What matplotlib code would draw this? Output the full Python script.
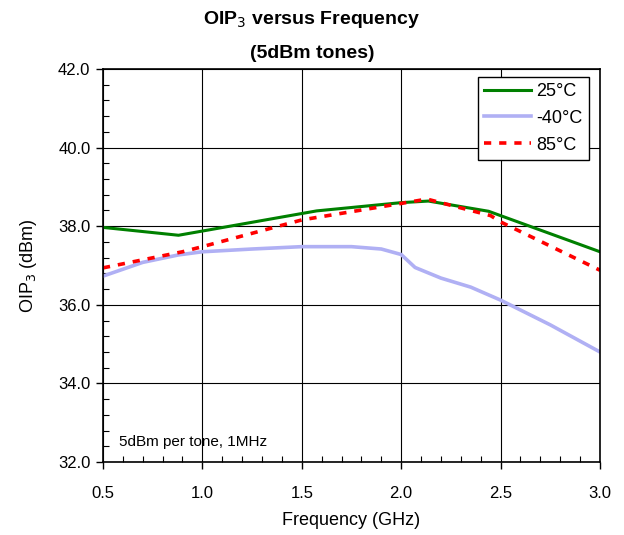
import matplotlib
matplotlib.use("Agg")
import matplotlib.pyplot as plt
from matplotlib.ticker import MultipleLocator

plt.rcParams['font.family'] = ['Liberation Sans', 'DejaVu Sans']

freq_25 = [0.5, 0.88, 1.575, 2.0, 2.137, 2.44, 3.0]
oip3_25 = [37.97, 37.77, 38.39, 38.60, 38.64, 38.38, 37.35]

freq_m40 = [0.5, 0.7, 0.88, 1.0, 1.25, 1.5, 1.75, 1.9, 2.0, 2.07, 2.2, 2.35, 2.5, 2.75, 3.0]
oip3_m40 = [36.73, 37.08, 37.27, 37.35, 37.42, 37.48, 37.48, 37.42, 37.28, 36.95, 36.68, 36.45, 36.12, 35.49, 34.80]

freq_85 = [0.5, 0.9, 1.0, 1.5, 1.75, 2.0, 2.13, 2.45, 2.5, 3.0]
oip3_85 = [36.94, 37.35, 37.48, 38.16, 38.37, 38.58, 38.69, 38.27, 38.11, 36.88]

labels = ['25°C', '-40°C', '85°C']

fig = plt.figure(figsize=(6.24, 5.35), dpi=100)
ax = fig.add_axes([0.165, 0.1364, 0.7965, 0.7346])

ax.plot(freq_25, oip3_25, color='#008000', lw=2.2, label=labels[0])
ax.plot(freq_m40, oip3_m40, color='#b0b0f4', lw=2.6, label=labels[1])
ax.plot(freq_85, oip3_85, color='#ff0000', lw=2.6, ls=(0, (2, 2.2)), label=labels[2])

ax.set_xlim(0.5, 3.0)
ax.set_ylim(32.0, 42.0)
ax.xaxis.set_major_locator(MultipleLocator(0.5))
ax.xaxis.set_minor_locator(MultipleLocator(0.1))
ax.yaxis.set_major_locator(MultipleLocator(2.0))
ax.yaxis.set_minor_locator(MultipleLocator(0.4))
ax.xaxis.set_major_formatter(matplotlib.ticker.FormatStrFormatter('%.1f'))
ax.yaxis.set_major_formatter(matplotlib.ticker.FormatStrFormatter('%.1f'))
ax.tick_params(which='major', direction='out', length=5, width=1, labelsize=12, color='black')
ax.tick_params(axis='x', which='major', pad=12)
ax.tick_params(axis='y', which='major', pad=4)
ax.tick_params(which='minor', direction='in', length=4, width=0.8)
ax.grid(True, which='major', color='black', lw=0.8)
for s in ax.spines.values():
    s.set_color('black')
    s.set_linewidth(1.2)

ax.set_xlabel('Frequency (GHz)', fontsize=13, labelpad=8)
ax.set_ylabel('OIP$_3$ (dBm)', fontsize=13, labelpad=14)

fig.text(0.5, 0.963, 'OIP$_3$ versus Frequency', ha='center', va='center',
         fontsize=14, fontweight='bold')
fig.text(0.5, 0.900, '(5dBm tones)', ha='center', va='center',
         fontsize=14, fontweight='bold')

ax.text(0.58, 32.5, '5dBm per tone, 1MHz', fontsize=11, ha='left', va='center')

leg = ax.legend(loc='upper right', bbox_to_anchor=(0.985, 0.99), fancybox=False,
                edgecolor='black', framealpha=1, fontsize=13, handlelength=2.6,
                borderpad=0.35, labelspacing=0.55, handletextpad=0.3, borderaxespad=0.2)
leg.get_frame().set_linewidth(1.0)

fig.savefig('out.png', dpi=100)
